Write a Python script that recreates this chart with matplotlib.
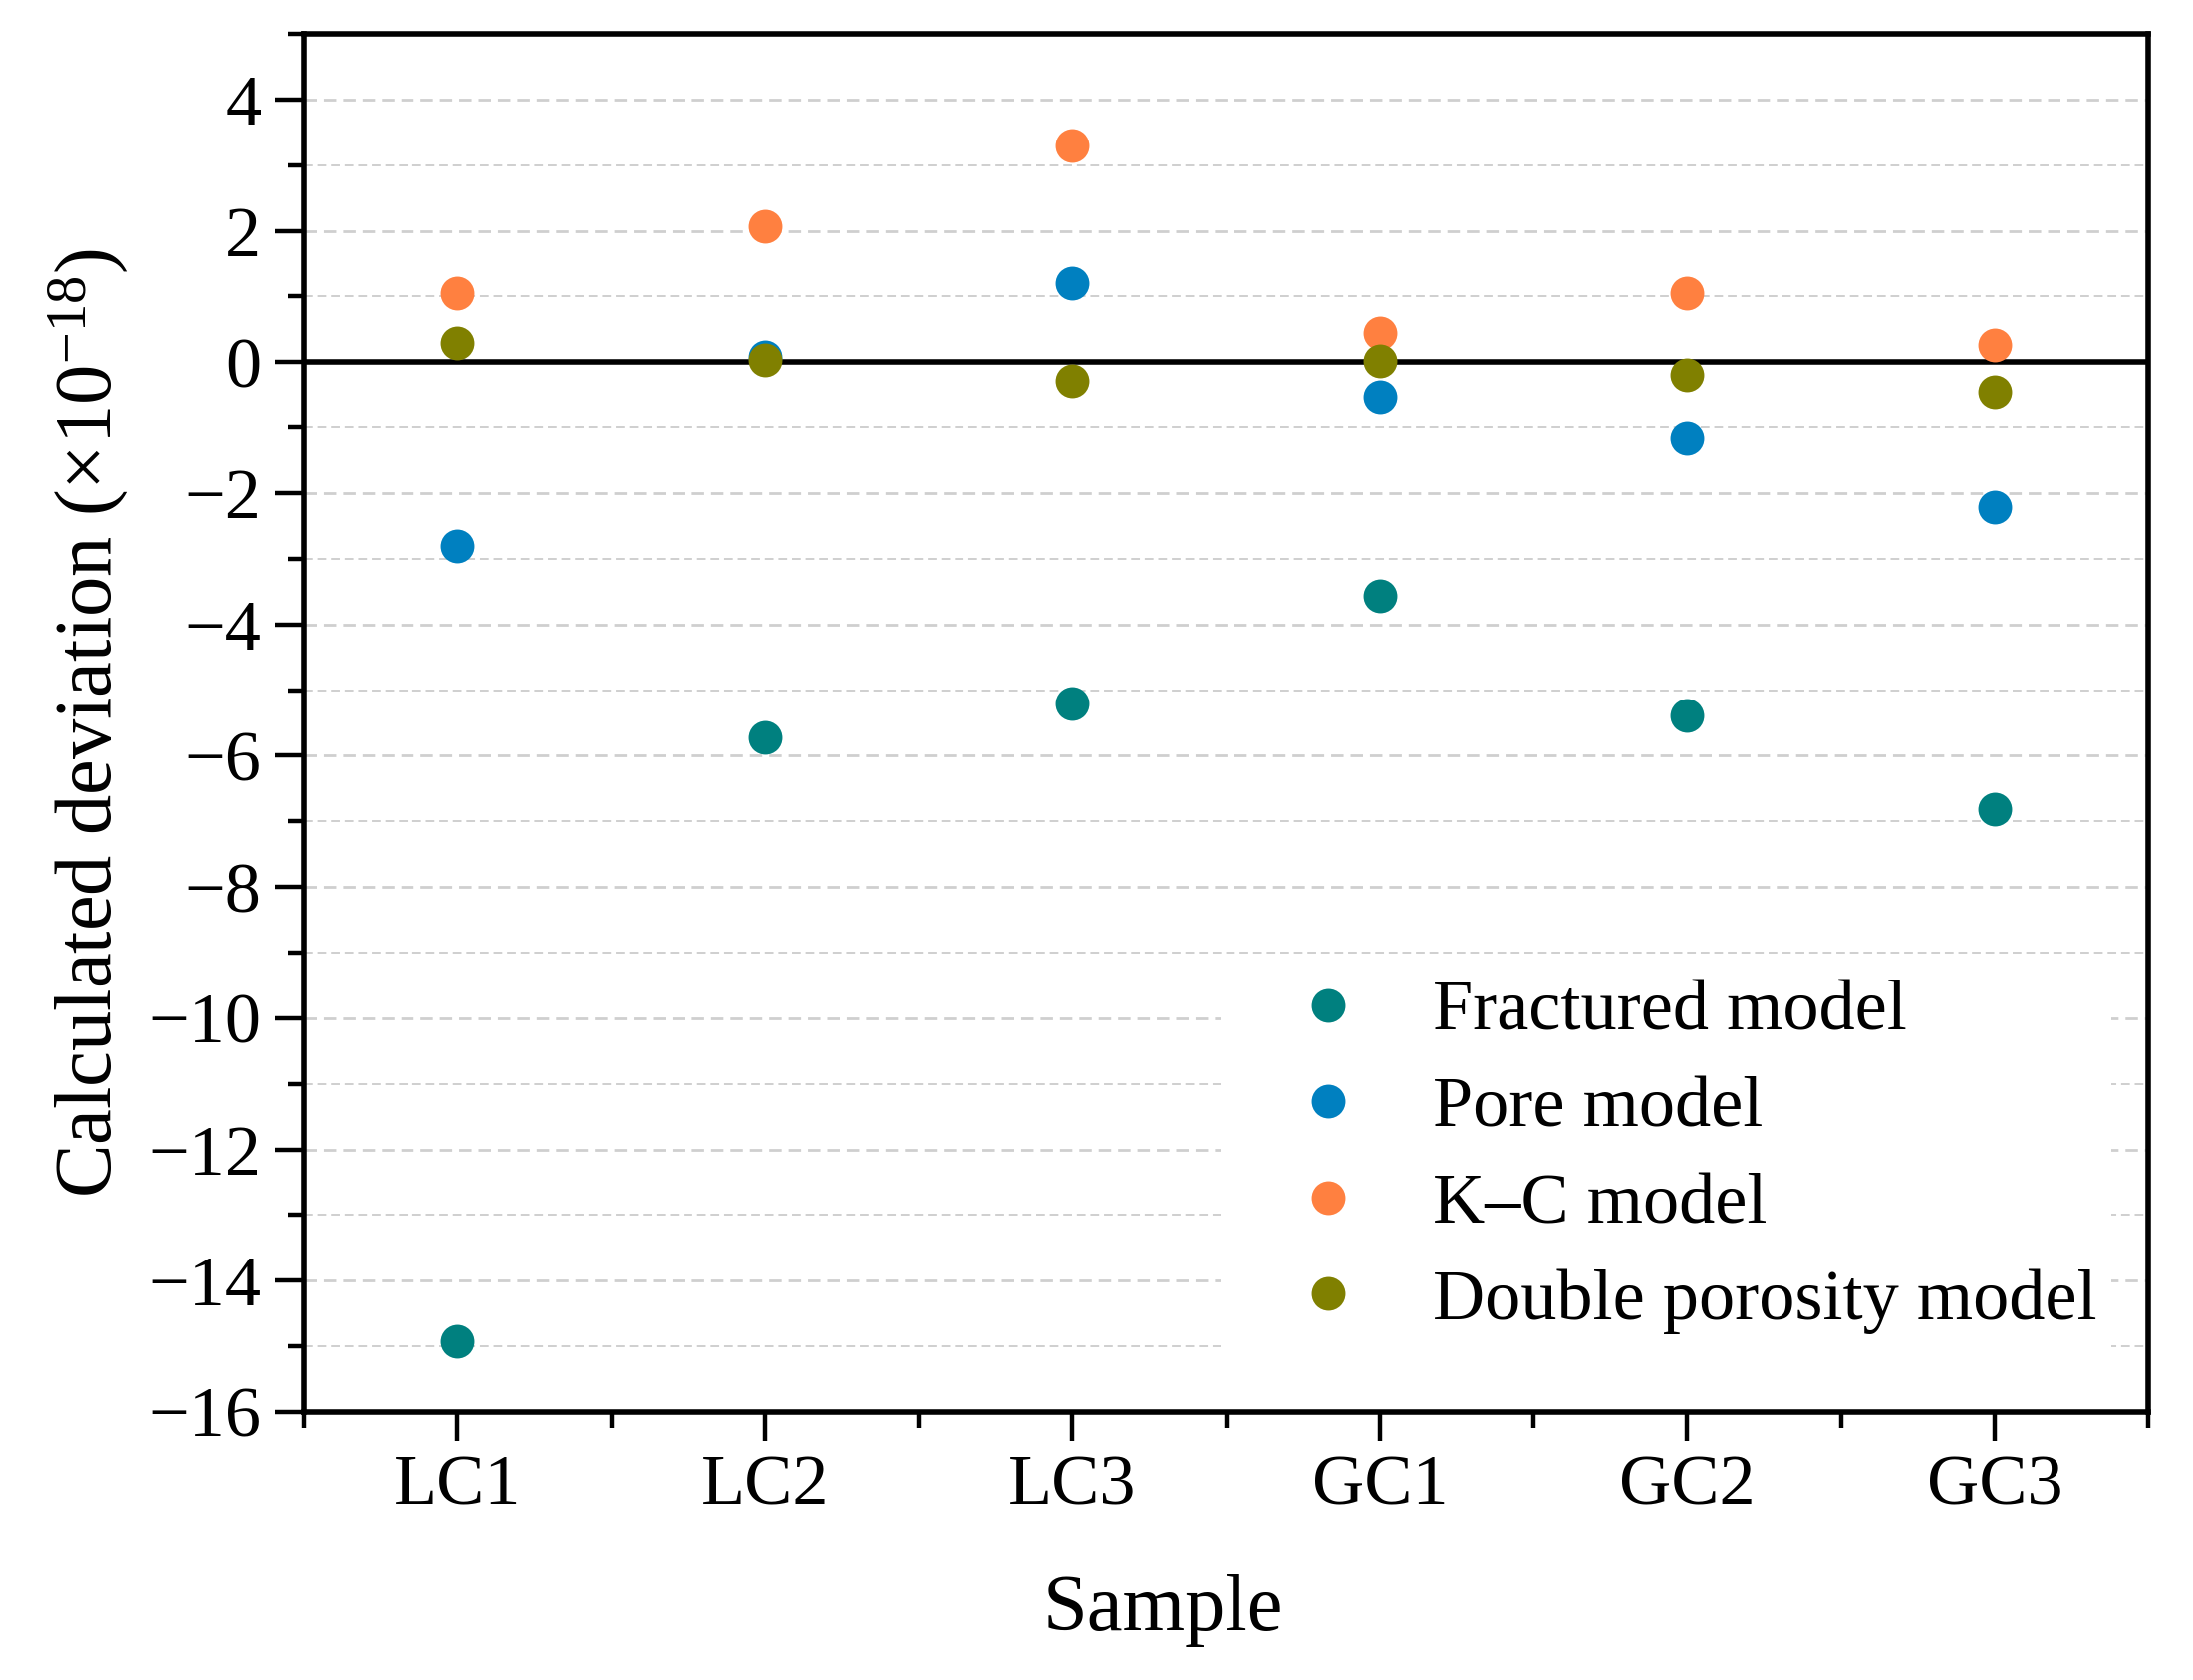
import matplotlib
matplotlib.use("Agg")
import matplotlib.pyplot as plt
from matplotlib.ticker import FixedLocator
import numpy as np

samples = ["LC1", "LC2", "LC3", "GC1", "GC2", "GC3"]
fractured = [-14.92, -5.72, -5.20, -3.56, -5.38, -6.82]
pore = [-2.80, 0.08, 1.20, -0.53, -1.16, -2.22]
kc = [1.05, 2.07, 3.30, 0.45, 1.05, 0.26]
double_por = [0.30, 0.03, -0.28, 0.02, -0.19, -0.45]

series = [
    ("Fractured model", fractured, "#00807F"),
    ("Pore model", pore, "#0080C0"),
    ("K\u2013C model", kc, "#FF8040"),
    ("Double porosity model", double_por, "#808000"),
]

plt.rcParams['font.family'] = ['Liberation Serif', 'DejaVu Serif']
plt.rcParams['mathtext.fontset'] = 'custom'
plt.rcParams['mathtext.rm'] = 'Liberation Serif'
plt.rcParams['mathtext.it'] = 'Liberation Serif:italic'

fig = plt.figure(figsize=(11.005, 8.43), dpi=200)
ax = fig.add_axes([0.1386, 0.1596, 0.841, 0.8202])

x = np.arange(len(samples))
for name, vals, col in series:
    ax.plot(x, vals, linestyle='none', marker='o', ms=12.2, color=col,
            markeredgewidth=0, label=name, zorder=4)

ax.axhline(0, color='black', lw=2.0, zorder=3)

ax.set_xlim(-0.5, len(samples) - 0.5)
ax.set_ylim(-16, 5)
ax.set_xticks(x)
ax.set_xticklabels(samples)
ax.xaxis.set_minor_locator(FixedLocator(np.arange(-0.5, len(samples), 1.0)))
ax.yaxis.set_major_locator(FixedLocator(np.arange(-16, 5, 2)))
ax.yaxis.set_minor_locator(FixedLocator(np.arange(-15, 6, 2)))

ax.tick_params(axis='both', which='major', direction='out', length=10.4, width=1.6,
               labelsize=26, pad=5)
ax.tick_params(axis='both', which='minor', direction='out', length=5.6, width=1.6)
ax.tick_params(top=False, right=False, which='both')

for s in ax.spines.values():
    s.set_linewidth(2.0)

for yv in np.arange(-15, 5, 1):
    if yv == 0:
        continue
    lw = 1.0 if yv % 2 == 0 else 0.7
    ax.axhline(yv, color='#CFCFCF', lw=lw, linestyle=(0, (4.5, 2.5)), zorder=1)

ax.set_xlabel("Sample", fontsize=29)
ax.xaxis.set_label_coords(0.466, -0.118)
ax.set_ylabel("Calculated deviation (\u00d710$^{\\mathregular{-18}}$)", fontsize=29, labelpad=6.5)

leg = ax.legend(loc='upper left', bbox_to_anchor=(0.497, 0.324), borderaxespad=0,
                frameon=True, fancybox=False, fontsize=26, handlelength=2.6,
                handletextpad=0.15, labelspacing=0.43, borderpad=0.2, numpoints=1)
leg.get_frame().set_facecolor('white')
leg.get_frame().set_edgecolor('none')
leg.get_frame().set_alpha(1.0)
leg.set_zorder(5)

fig.savefig("out.png", dpi=200)
